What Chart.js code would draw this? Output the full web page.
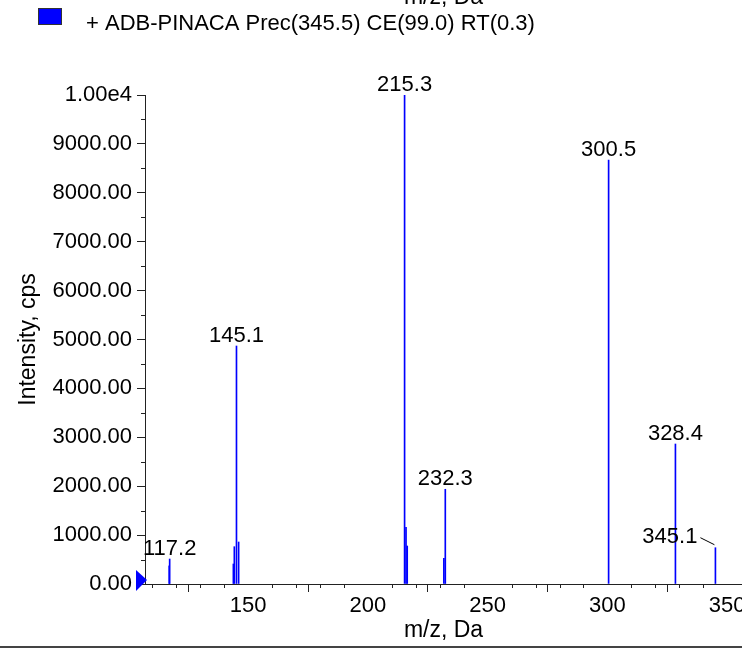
<!DOCTYPE html>
<html>
<head>
<meta charset="utf-8">
<script src="https://cdn.jsdelivr.net/npm/chart.js@4.4.1/dist/chart.umd.min.js"></script>
<style>
  html, body { margin: 0; padding: 0; background: #fff; overflow: hidden; }
  #wrap { width: 742px; height: 651px; overflow: hidden; }
  canvas { display: block; background: #fff; }
</style>
</head>
<body>
<div id="wrap"><canvas id="grafico" width="760" height="651"></canvas></div>
<script>
// datos del espectro (m/z, intensidad en cps)
const mz        = [117.0, 117.2, 143.8, 144.2, 145.1, 146.0, 215.3, 215.9, 216.4, 231.7, 232.3, 300.5, 328.4, 345.1]
const intensity = [370,   511,   409,   763,   4867,  859,   10000, 1160,  777,   526,   1937,  8671,  2863,  742]

// picos que llevan etiqueta
const labeledPeaks = [117.2, 145.1, 215.3, 232.3, 300.5, 328.4, 345.1]

// ticks de los ejes
const xTickValues = [150, 200, 250, 300, 350]
const yTickValues = [0, 1000, 2000, 3000, 4000, 5000, 6000, 7000, 8000, 9000, 10000]

const legendText = '+ ADB-PINACA Prec(345.5) CE(99.0) RT(0.3)'
const xTitle = 'm/z, Da'
const yTitle = 'Intensity, cps'

const FONT = 'Liberation Sans, Arial, sans-serif'
const AXIS = '#222'

Chart.defaults.font.family = FONT
Chart.defaults.font.size = 22
Chart.defaults.color = '#000'

// --------------------------------------
/* plugin: leyenda, ticks menores, etiquetas de picos y marcador */
// --------------------------------------
const extras = {
  id: 'extras',
  afterDatasetsDraw(chart) {
    const ctx = chart.ctx
    const xs = chart.scales.x
    const ys = chart.scales.y
    ctx.save()
    ctx.font = '22px ' + FONT
    ctx.fillStyle = '#000'
    ctx.textBaseline = 'alphabetic'
    for (let p of labeledPeaks) {
      const i = mz.indexOf(p)
      const px = xs.getPixelForValue(p)
      const py = ys.getPixelForValue(intensity[i])
      const txt = p.toFixed(1)
      if (p === 345.1) {
        // etiqueta desplazada con linea guia
        ctx.textAlign = 'right'
        ctx.fillText(txt, px - 18, py - 5)
        ctx.strokeStyle = '#000'
        ctx.lineWidth = 1
        ctx.beginPath()
        ctx.moveTo(px - 15, py - 10)
        ctx.lineTo(px - 1, py - 3)
        ctx.stroke()
      } else {
        ctx.textAlign = 'center'
        ctx.fillText(txt, px, py - 4)
      }
    }
    ctx.restore()
  },
  afterDraw(chart) {
    const ctx = chart.ctx
    const xs = chart.scales.x
    const ys = chart.scales.y
    const area = chart.chartArea
    ctx.save()

    // ticks menores
    ctx.strokeStyle = AXIS
    ctx.lineWidth = 1
    ctx.beginPath()
    for (let v = 110; v <= 350; v += 10) {
      if (v % 50 === 0) continue
      const px = Math.round(xs.getPixelForValue(v)) + 0.5
      ctx.moveTo(px, area.bottom)
      ctx.lineTo(px, area.bottom + 4)
    }
    for (let v = 500; v < 10000; v += 1000) {
      const py = Math.round(ys.getPixelForValue(v)) + 0.5
      ctx.moveTo(area.left - 4, py)
      ctx.lineTo(area.left, py)
    }
    ctx.stroke()

    // marcador azul en y = 0
    const y0 = ys.getPixelForValue(0)
    ctx.fillStyle = '#0000ff'
    ctx.beginPath()
    ctx.moveTo(area.left - 9, y0 - 14)
    ctx.lineTo(area.left + 2, y0 - 4)
    ctx.lineTo(area.left - 9, y0 + 7)
    ctx.closePath()
    ctx.fill()

    // titulo cortado del grafico anterior
    ctx.fillStyle = '#000'
    ctx.font = '23px ' + FONT
    ctx.textAlign = 'center'
    ctx.textBaseline = 'alphabetic'
    ctx.fillText(xTitle, (area.left + area.right) / 2, 4)

    // leyenda
    ctx.font = '22px ' + FONT
    ctx.fillStyle = '#0000ff'
    ctx.fillRect(38.5, 8.5, 23, 16)
    ctx.strokeStyle = '#333'
    ctx.strokeRect(38.5, 8.5, 23, 16)
    ctx.fillStyle = '#000'
    ctx.textAlign = 'left'
    ctx.fillText(legendText, 86, 30)

    // linea inferior
    ctx.strokeStyle = '#444'
    ctx.lineWidth = 2
    ctx.beginPath()
    ctx.moveTo(0, 647)
    ctx.lineTo(chart.width, 647)
    ctx.stroke()

    ctx.restore()
  }
}

const espectro = new Chart(document.getElementById('grafico'), {
  type: 'bar',
  data: {
    datasets: [{
      data: mz.map((x, i) => ({ x: x, y: intensity[i] })),
      backgroundColor: '#0000ff',
      borderWidth: 0,
      barThickness: 1
    }]
  },
  options: {
    responsive: false,
    animation: false,
    layout: { padding: { top: 95, right: 18, left: 0, bottom: 0 } },
    plugins: { legend: { display: false }, tooltip: { enabled: false } },
    scales: {
      x: {
        type: 'linear',
        position: 'bottom',
        min: 106.9,
        max: 356.2,
        offset: false,
        afterBuildTicks: s => { s.ticks = xTickValues.map(v => ({ value: v })) },
        afterFit: s => { s.height = 67 },
        grid: { display: true, drawOnChartArea: false, tickLength: 8, tickColor: AXIS, tickWidth: 1 },
        border: { color: AXIS, width: 1 },
        ticks: { autoSkip: false, maxRotation: 0, padding: 1, color: '#000', font: { size: 22 }, callback: v => String(v) },
        title: { display: true, text: xTitle, color: '#000', font: { size: 23 }, padding: { top: 0, bottom: 7 } }
      },
      y: {
        min: 0,
        max: 10000,
        afterBuildTicks: s => { s.ticks = yTickValues.map(v => ({ value: v })) },
        afterFit: s => { s.width = 145 },
        grid: { display: true, drawOnChartArea: false, tickLength: 8, tickColor: AXIS, tickWidth: 1 },
        border: { color: AXIS, width: 1 },
        ticks: { padding: 5, color: '#000', font: { size: 22 }, callback: v => v === 10000 ? '1.00e4' : v.toFixed(2) },
        title: { display: true, text: yTitle, color: '#000', font: { size: 23 }, padding: { top: 15, bottom: 0 } }
      }
    }
  },
  plugins: [extras]
})
</script>
</body>
</html>
